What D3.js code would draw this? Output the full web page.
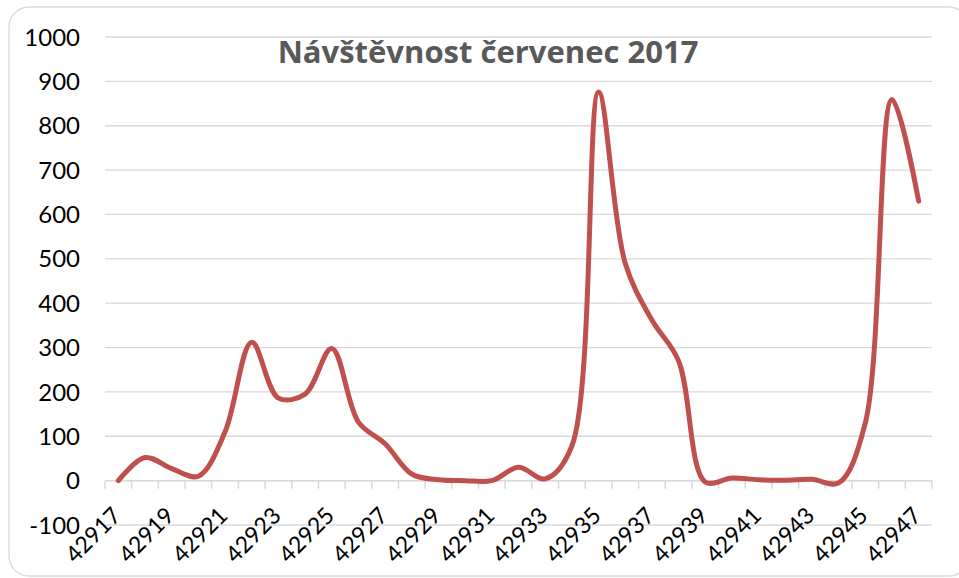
<!DOCTYPE html>
<html>
<head>
<meta charset="utf-8">
<script src="https://cdn.jsdelivr.net/npm/d3@7/dist/d3.min.js"></script>
<style>
  html, body { margin: 0; padding: 0; background: #fff; }
  svg { display: block; }
</style>
</head>
<body>
<svg id="chart" width="959" height="578"></svg>
<script>
const title = "Návštěvnost červenec 2017";
const categories = [42917,42918,42919,42920,42921,42922,42923,42924,42925,42926,
  42927,42928,42929,42930,42931,42932,42933,42934,42935,42936,
  42937,42938,42939,42940,42941,42942,42943,42944,42945,42946,42947];
const visits = [0,52,27,10,110,312,186,195,298,132,
  83,15,2,0,0,30,4,78,876,490,
  362,270,-3,6,2,1,3,-5,130,859,630];
const yTicks = [-100,0,100,200,300,400,500,600,700,800,900,1000];

const svg = d3.select("#chart");
const plot = {left: 105, right: 932, top: 37, bottom: 525};

// outer border
svg.append("rect")
  .attr("x", 9).attr("y", 7).attr("width", 960).attr("height", 569)
  .attr("rx", 20).attr("ry", 20)
  .attr("fill", "#fff").attr("stroke", "#d9d9d9").attr("stroke-width", 1.3);

const x = d3.scaleBand().domain(categories).range([plot.left, plot.right]).padding(0);
const y = d3.scaleLinear().domain([-100, 1000]).range([plot.bottom, plot.top]);

// gridlines
svg.append("g").selectAll("line").data(yTicks).join("line")
  .attr("x1", plot.left).attr("x2", plot.right)
  .attr("y1", d => y(d)).attr("y2", d => y(d))
  .attr("stroke", "#d9d9d9").attr("stroke-width", 1.3);

// y labels
svg.append("g").selectAll("text").data(yTicks).join("text")
  .attr("x", 80).attr("y", d => y(d))
  .attr("dy", "0.36em")
  .attr("text-anchor", "end")
  .attr("font-family", "Lato, 'Open Sans', sans-serif")
  .attr("font-size", 24)
  .attr("fill", "#000")
  .text(d => d);

// x axis at zero with ticks at category boundaries
const bounds = categories.map(c => x(c)).concat([plot.right]);
const xAxisG = svg.append("g");
xAxisG.append("line")
  .attr("x1", plot.left).attr("x2", plot.right)
  .attr("y1", y(0)).attr("y2", y(0))
  .attr("stroke", "#d9d9d9").attr("stroke-width", 1.5);
xAxisG.selectAll("line.tick").data(bounds).join("line")
  .attr("class", "tick")
  .attr("x1", d => d).attr("x2", d => d)
  .attr("y1", y(0)).attr("y2", y(0) + 8)
  .attr("stroke", "#d9d9d9").attr("stroke-width", 1.5);

// x labels every other category
svg.append("g").selectAll("text").data(categories.filter((c, i) => i % 2 === 0)).join("text")
  .attr("transform", d => `translate(${x(d) + x.bandwidth() / 2 + 4},${517}) rotate(-45)`)
  .attr("text-anchor", "end")
  .attr("font-family", "Lato, 'Open Sans', sans-serif")
  .attr("font-size", 23)
  .attr("fill", "#000")
  .text(d => d);

// line
const line = d3.line()
  .x((d, i) => x(categories[i]) + x.bandwidth() / 2)
  .y(d => y(d))
  .curve(d3.curveCatmullRom.alpha(0.5));
svg.append("path")
  .datum(visits)
  .attr("d", line)
  .attr("fill", "none")
  .attr("stroke", "#c0504d")
  .attr("stroke-width", 5)
  .attr("stroke-linecap", "round")
  .attr("stroke-linejoin", "round");

// title
svg.append("text")
  .attr("x", 488).attr("y", 63)
  .attr("text-anchor", "middle")
  .attr("font-family", "'Open Sans', Lato, sans-serif")
  .attr("font-weight", "bold")
  .attr("font-size", 31)
  .attr("fill", "#595959")
  .text(title);
</script>
</body>
</html>
